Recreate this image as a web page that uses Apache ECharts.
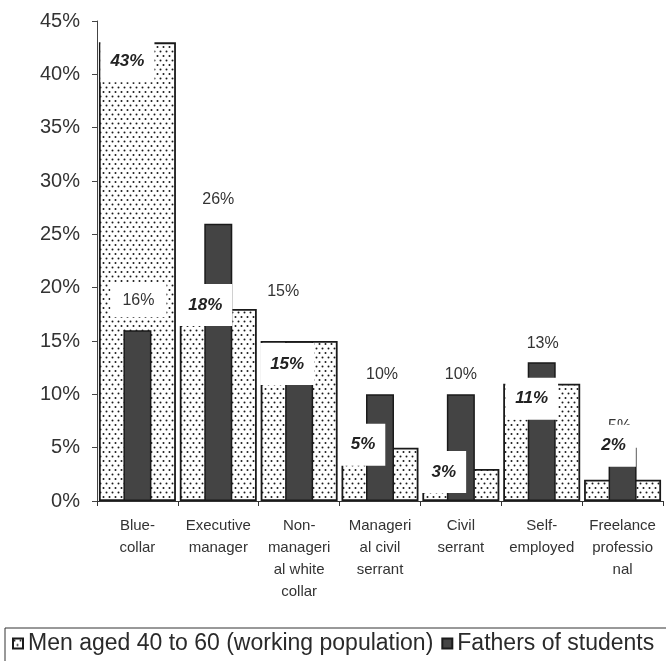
<!DOCTYPE html>
<html><head><meta charset="utf-8">
<script src="https://cdn.jsdelivr.net/npm/echarts@6/dist/echarts.min.js"></script>
<style>html,body{margin:0;padding:0;background:#fff}#c{width:666px;height:661px}</style>
</head><body><div id="c"></div>
<script>
const categories = ['Blue-\ncollar', 'Executive\nmanager', 'Non-\nmanageri\nal white\ncollar', 'Manageri\nal civil\nserrant', 'Civil\nserrant', 'Self-\nemployed', 'Freelance\nprofessio\nnal'];
const menValues = [43, 18, 15, 5, 3, 11, 2];
const fatherValues = [16, 26, 15, 10, 10, 13, 5];
const seriesNames = ['Men aged 40 to 60 (working population)', 'Fathers of students'];
const yMin = 0, yMax = 45, yStep = 5;

// label placement (pixel shifts from each value point)
const menLabelShift = [[-10, 19], [-13, -4], [-12, 23], [-17, -3], [-17, 3], [-10, 15], [-9, -34]];
const fatherLabelShift = [[1, -30], [0, -24], [-16, -49], [2, -20], [0, -20], [1, -19], [-3, -21]];

const FONT = 'Liberation Sans, Arial, Helvetica, sans-serif';

function dotPattern() {
  const c = document.createElement('canvas');
  c.width = 6; c.height = 9;
  const g = c.getContext('2d');
  g.fillStyle = '#ffffff'; g.fillRect(0, 0, 6, 9);
  g.fillStyle = '#1a1a1a';
  [[1.5, 2], [4.5, 6.5]].forEach(([x, y]) => { g.beginPath(); g.arc(x, y, 1.0, 0, Math.PI * 2); g.fill(); });
  return c;
}

const chart = echarts.init(document.getElementById('c'), null, { renderer: 'canvas' });
const pct = p => p.value[1] + '%';

chart.setOption({
  animation: false,
  backgroundColor: '#fff',
  textStyle: { fontFamily: FONT },
  grid: { left: 97, right: 3, top: 21, bottom: 160, containLabel: false },
  legend: {
    left: 5, top: 628, width: 900,
    padding: [4, 60, 20, 7],
    borderColor: '#333', borderWidth: 1,
    itemWidth: 10, itemHeight: 10, itemGap: 8,
    icon: 'rect',
    textStyle: { fontSize: 23, color: '#2a2a2a', fontFamily: FONT },
    data: seriesNames
  },
  xAxis: [{
    type: 'category', data: categories,
    axisLine: { lineStyle: { color: '#333', width: 1 } },
    axisTick: { show: true, length: 5, lineStyle: { color: '#333' } },
    axisLabel: { interval: 0, fontSize: 15, lineHeight: 22, margin: 14, color: '#333', fontFamily: FONT }
  }, {
    type: 'category', data: categories, show: false
  }],
  yAxis: {
    type: 'value', min: yMin, max: yMax, interval: yStep,
    axisLine: { show: true, lineStyle: { color: '#444' } },
    axisTick: { show: true, length: 5, lineStyle: { color: '#444' } },
    splitLine: { show: false },
    axisLabel: { formatter: v => v + '%', fontSize: 20, color: '#333', margin: 17, fontFamily: FONT }
  },
  series: [{
    name: seriesNames[0], type: 'bar', xAxisIndex: 0, barWidth: 77, z: 2,
    data: menValues,
    itemStyle: { color: { image: dotPattern(), repeat: 'repeat' }, borderColor: '#1a1a1a', borderWidth: 1.8 }
  }, {
    name: seriesNames[1], type: 'bar', xAxisIndex: 1, barWidth: 28, z: 3,
    data: fatherValues,
    itemStyle: { color: '#444', borderColor: '#1a1a1a', borderWidth: 1.5 }
  }, {
    type: 'scatter', xAxisIndex: 0, symbolSize: 0, z: 4, silent: true,
    itemStyle: { opacity: 1 },
    data: fatherValues.map((v, i) => ({ value: [i, v], label: { offset: fatherLabelShift[i] } })),
    label: { show: true, position: 'inside', formatter: pct, fontSize: 16, color: '#333', backgroundColor: '#fff', opacity: 1, padding: [9, 12], fontFamily: FONT }
  }, {
    type: 'scatter', xAxisIndex: 0, symbolSize: 0, z: 5, silent: true,
    itemStyle: { opacity: 1 },
    data: menValues.map((v, i) => ({ value: [i, v], label: { offset: menLabelShift[i] } })),
    label: { show: true, position: 'inside', formatter: pct, fontSize: 17, fontStyle: 'italic', fontWeight: 'bold', color: '#222', backgroundColor: '#fff', opacity: 1, padding: [12, 10], lineHeight: 18, fontFamily: FONT }
  }]
});
</script></body></html>
